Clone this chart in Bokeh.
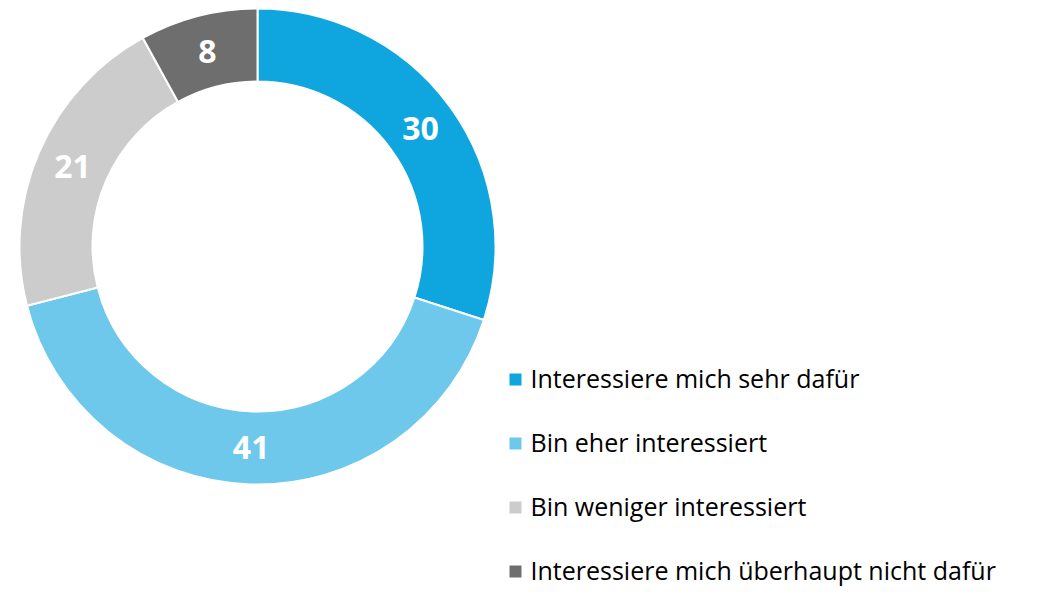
import numpy as np
from bokeh.plotting import figure
from bokeh.models import Range1d, ColumnDataSource
from bokeh.core.properties import value
from bokeh.embed import file_html
from bokeh.resources import INLINE

categories = ["Interessiere mich sehr dafür", "Bin eher interessiert",
              "Bin weniger interessiert", "Interessiere mich überhaupt nicht dafür"]
values = [30, 41, 21, 8]
colors = ["#0FA6DF", "#6DC8EC", "#CCCCCC", "#6E6E6E"]

W, H = 1044, 588
p = figure(width=W, height=H, output_backend="svg", toolbar_location=None,
           x_range=Range1d(0, W), y_range=Range1d(0, H), min_border=0)
p.axis.visible = False
p.grid.visible = False
p.outline_line_color = None
p.background_fill_color = "white"

cx, cy = 257, H - 246
r_out, r_in = 238, 165
vals = np.array(values, dtype=float)
frac = vals / vals.sum()
cum = np.concatenate([[0], np.cumsum(frac)])
start = np.pi / 2 - 2 * np.pi * cum[1:]
end = np.pi / 2 - 2 * np.pi * cum[:-1]
mid = (start + end) / 2
r_mid = (r_out + r_in) / 2

src = ColumnDataSource(dict(start=start, end=end, color=colors,
                            lx=cx + r_mid * np.cos(mid), ly=cy + r_mid * np.sin(mid),
                            lab=[str(v) for v in values]))
p.annular_wedge(x=cx, y=cy, inner_radius=r_in, outer_radius=r_out,
                start_angle="start", end_angle="end", direction="anticlock",
                fill_color="color", line_color="white", line_width=2, source=src)
p.text(x="lx", y="ly", text="lab", source=src, text_color="white",
       text_font=value("Open Sans"), text_font_size="32px", text_font_style="bold",
       text_align="center", text_baseline="middle")

# legend
n = len(categories)
row_y = 379 + 64 * np.arange(n)          # centre of each legend row, px from top
leg = ColumnDataSource(dict(sy=H - row_y, ty=H - row_y + 2, color=colors, lab=categories))
p.rect(x=515, y="sy", width=12, height=12, fill_color="color", line_color=None, source=leg)
p.text(x=530, y="ty", text="lab", source=leg, text_color="#000000",
       text_font=value("Open Sans"), text_font_size="25px",
       text_align="left", text_baseline="middle")

open("out.html", "w").write(file_html(p, INLINE))
